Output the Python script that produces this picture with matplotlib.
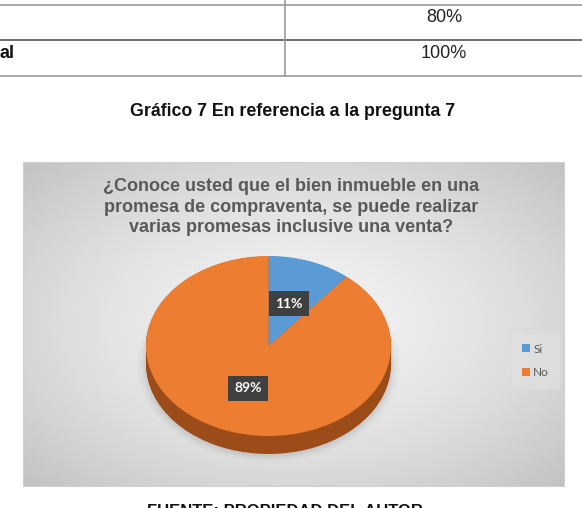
import numpy as np
import matplotlib.pyplot as plt

# datos del grafico
categorias = ['Si', 'No']
valores = [11, 89]
colores = ['#5b9bd5', '#ed7d31']
colores_lado = ['#3d6e9b', '#9c4c18']
titulo = ('¿Conoce usted que el bien inmueble en una\n'
          'promesa de compraventa, se puede realizar\n'
          'varias promesas inclusive una venta?')
tabla_valores = ['80%', '100%']
tabla_fila = 'al'
leyenda_doc = 'Gráfico 7 En referencia a la pregunta 7'
fuente = 'FUENTE: PROPIEDAD DEL AUTOR'

W, H = 582, 508
fig = plt.figure(figsize=(W / 100, H / 100), dpi=100)
fig.patch.set_facecolor('white')

# eje de fondo en pixeles
bg = fig.add_axes([0, 0, 1, 1])
bg.set_xlim(0, W)
bg.set_ylim(H, 0)
bg.axis('off')

# tabla de arriba
bg.plot([0, W], [4.5, 4.5], color='#9a9a9a', lw=1.2)
bg.plot([0, W], [40, 40], color='#555555', lw=1.2)
bg.plot([0, W], [76, 76], color='#9a9a9a', lw=1.2)
bg.plot([285, 285], [0, 76], color='#9a9a9a', lw=1.2)
bg.text(444, 18, tabla_valores[0], ha='center', va='center', fontsize=13,
        family='Liberation Sans', color='#222222')
bg.text(444, 54, tabla_valores[1], ha='center', va='center', fontsize=13,
        family='Liberation Sans', color='#222222')
bg.text(-1, 54, tabla_fila, ha='left', va='center', fontsize=13,
        family='Liberation Sans', weight='bold', color='#111111')

bg.text(293, 112, leyenda_doc, ha='center', va='center', fontsize=12.8,
        family='Liberation Sans', weight='bold', color='#111111')
bg.text(285, 515.5, fuente, ha='center', va='baseline', fontsize=12,
        family='Liberation Sans', weight='bold', color='#111111')

# fondo degradado del grafico
x0, x1, y0, y1 = 23, 564, 162, 486
gx, gy = np.meshgrid(np.linspace(-1, 1, 300), np.linspace(-1, 1, 200))
r = np.sqrt(gx ** 2 + gy ** 2) / np.sqrt(2)
grad = 0.95 - 0.19 * r ** 1.6
bg.imshow(grad, cmap='gray', vmin=0, vmax=1, extent=(x0, x1, y1, y0),
          aspect='auto', interpolation='bicubic', zorder=0)
bg.plot([x0, x1, x1, x0, x0], [y0, y0, y1, y1, y0], color='#d0d0d0', lw=0.8)
bg.set_xlim(0, W)
bg.set_ylim(H, 0)

bg.text(291, 207, titulo, ha='center', va='center', fontsize=13,
        family='Liberation Sans', weight='bold', color='#595959',
        linespacing=1.25)

# pastel con perspectiva
cx, cy, rx, ry, prof = 268.5, 346, 122.5, 90, 18
m = 0.06
d = prof / ry
left = cx - rx * (1 + m)
right = cx + rx * (1 + m)
top = cy - ry * (1 + m)
bottom = cy + ry * (1 + m) + prof
ax = fig.add_axes([left / W, 1 - bottom / H, (right - left) / W, (bottom - top) / H])

# sombra suave
for k, a in zip([1.07, 1.04, 1.02], [0.025, 0.03, 0.04]):
    ax.pie([1], colors=['#000000'], radius=k, center=(0, -d - 0.01),
           wedgeprops=dict(linewidth=0, alpha=a))

for k in np.linspace(d, 0.005, 14):
    ax.pie(valores, colors=colores_lado, startangle=90, counterclock=False,
           center=(0, -k), wedgeprops=dict(linewidth=0))

wedges, textos, autotextos = ax.pie(
    valores, colors=colores, startangle=90, counterclock=False,
    autopct='%1.0f%%', pctdistance=0.5, wedgeprops=dict(linewidth=0),
    textprops=dict(color='white', fontsize=10, weight='bold', family='Lato'))
for t in autotextos:
    t.set_bbox(dict(boxstyle='square,pad=0.45', fc='#404040', ec='none'))

ax.set_aspect('auto')
ax.set_xlim(-1 - m, 1 + m)
ax.set_ylim(-1 - m - d, 1 + m)
ax.axis('off')

leg = ax.legend(wedges, categorias, loc='center',
                bbox_to_anchor=(535.5 / W, 1 - 361 / H),
                bbox_transform=fig.transFigure, frameon=True,
                handlelength=0.65, handleheight=0.65, handletextpad=0.3,
                labelspacing=1.1, borderpad=0.6,
                prop=dict(family='Lato', size=8.5))
leg.get_frame().set_facecolor('#e2e2e2')
leg.get_frame().set_edgecolor('#dadada')
leg.get_frame().set_linewidth(0.5)
leg.get_frame().set_alpha(0.6)
leg.get_frame().set_boxstyle('square')
for t in leg.get_texts():
    t.set_color('#595959')

fig.savefig('out.png', dpi=100)
